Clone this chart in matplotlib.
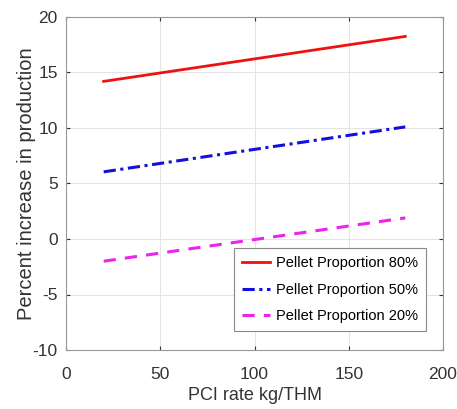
import matplotlib.pyplot as plt
import numpy as np

plt.rcParams['font.family'] = ['Liberation Sans', 'DejaVu Sans']
plt.rcParams['axes.unicode_minus'] = False

pci_rate = [20, 180]
prop_80 = [14.2, 18.25]
prop_50 = [6.05, 10.1]
prop_20 = [-2.0, 1.9]
labels = ["Pellet Proportion 80%", "Pellet Proportion 50%", "Pellet Proportion 20%"]

fig = plt.figure(figsize=(4.57, 4.09), dpi=100)
ax = fig.add_axes([66/457, 1 - 350/409, 377/457, 333/409])

ax.plot(pci_rate, prop_80, color="#ee1111", linestyle="-", linewidth=2, label=labels[0])
ax.plot(pci_rate, prop_50, color="#1111dd", linestyle=(0, (4, 1.5, 1, 1.5)), linewidth=2.2, label=labels[1])
ax.plot(pci_rate, prop_20, color="#ee22ee", linestyle=(0, (4, 3)), linewidth=2.2, label=labels[2])

ax.set_xlim(0, 200)
ax.set_ylim(-10, 20)
ax.set_xticks([0, 50, 100, 150, 200])
ax.set_yticks([-10, -5, 0, 5, 10, 15, 20])
ax.grid(color="#e4e4e4", linewidth=0.8)
ax.tick_params(direction="in", top=True, right=True, labelsize=12.5, colors="#333333", length=3)
ax.tick_params(axis="x", pad=12)
ax.tick_params(axis="y", pad=6)
for s in ax.spines.values():
    s.set_color("#999999")
ax.set_xlabel("PCI rate kg/THM", fontsize=13, color="#333333", labelpad=4)
ax.set_ylabel("Percent increase in production", fontsize=14.5, color="#333333")
ax.yaxis.set_label_coords(-0.08, 0.5)

leg = ax.legend(loc="lower right", bbox_to_anchor=(0.975, 0.035), fontsize=10.5, fancybox=False,
                framealpha=1, edgecolor="#888888", handlelength=1.9, handletextpad=0.45,
                borderpad=0.55, labelspacing=0.85)
leg.get_frame().set_linewidth(0.8)

fig.savefig("out.png", dpi=100)
